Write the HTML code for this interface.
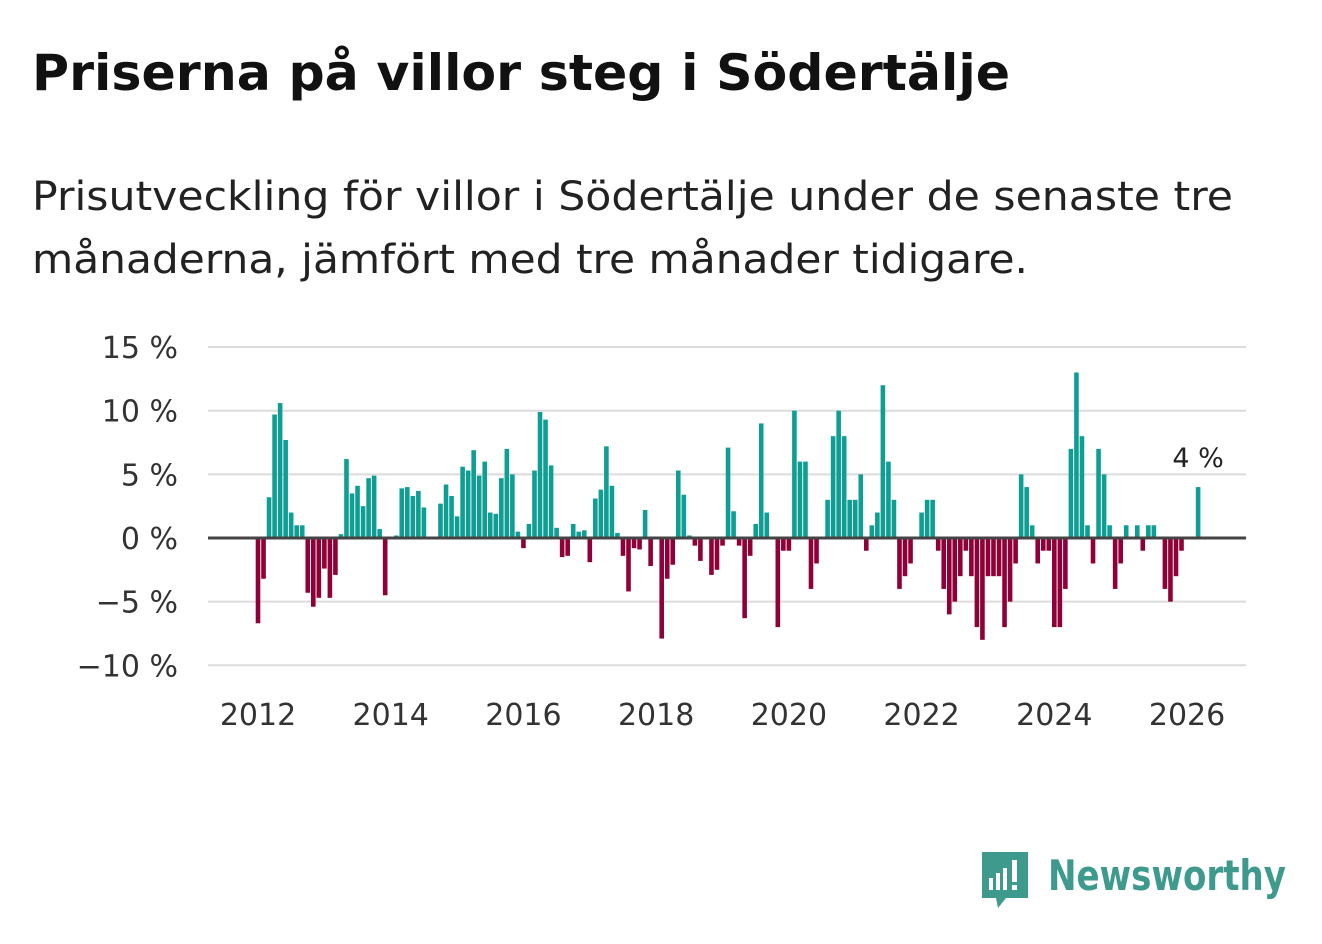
<!DOCTYPE html>
<html><head><meta charset="utf-8"><style>
body{margin:0;background:#fff;width:1322px;height:939px;overflow:hidden;font-family:"Liberation Sans","DejaVu Sans",sans-serif;}
</style></head><body>
<svg id="chart" width="1322" height="939">
<text x="32" y="90" font-size="50" font-weight="bold" fill="#111" font-family="DejaVu Sans, sans-serif" textLength="978" lengthAdjust="spacingAndGlyphs">Priserna på villor steg i Södertälje</text>
<text x="32" y="210" font-size="40" fill="#222" font-family="DejaVu Sans, sans-serif" textLength="1201" lengthAdjust="spacingAndGlyphs">Prisutveckling för villor i Södertälje under de senaste tre</text>
<text x="32" y="273" font-size="40" fill="#222" font-family="DejaVu Sans, sans-serif" textLength="996" lengthAdjust="spacingAndGlyphs">månaderna, jämfört med tre månader tidigare.</text>
<g id="grid"></g><g id="bars"></g><g id="axes"></g>
<g>
<path d="M982 852 h46 v46 h-22 l-8 10 l-2 -10 h-14 z" fill="#3f9a8e"/>
<rect x="989" y="878" width="4" height="12" fill="#fff"/><rect x="996" y="873" width="4" height="17" fill="#fff"/><rect x="1003" y="868" width="4" height="22" fill="#fff"/><rect x="1012" y="860" width="5" height="22" fill="#fff"/><rect x="1012" y="885" width="5" height="5" fill="#fff"/>
<text x="1048" y="890" font-size="42" font-weight="bold" fill="#3f9a8e" font-family="DejaVu Sans, sans-serif" textLength="238" lengthAdjust="spacingAndGlyphs">Newsworthy</text>
</g>
</svg>
<script>
const startYear = 2012;
const values = [
-6.7,-3.2,3.2,9.7,10.6,7.7,2.0,1.0,1.0,-4.3,-5.4,-4.7,
-2.4,-4.7,-2.9,0.3,6.2,3.5,4.1,2.5,4.7,4.9,0.7,-4.5,
0,0.2,3.9,4.0,3.3,3.7,2.4,0.1,0,2.7,4.2,3.3,
1.7,5.6,5.3,6.9,4.9,6.0,2.0,1.9,4.7,7.0,5.0,0.5,
-0.8,1.1,5.3,9.9,9.3,5.7,0.8,-1.5,-1.4,1.1,0.5,0.6,
-1.9,3.1,3.8,7.2,4.1,0.4,-1.4,-4.2,-0.8,-0.9,2.2,-2.2,
0,-7.9,-3.2,-2.1,5.3,3.4,0.2,-0.6,-1.8,0,-2.9,-2.5,
-0.6,7.1,2.1,-0.6,-6.3,-1.4,1.1,9.0,2.0,0,-7.0,-1.0,
-1.0,10,6,6,-4,-2,0,3,8,10,8,3,
3,5,-1,1,2,12,6,3,-4,-3,-2,0,
2,3,3,-1,-4,-6,-5,-3,-1,-3,-7,-8,
-3,-3,-3,-7,-5,-2,5,4,1,-2,-1,-1,
-7,-7,-4,7,13,8,1,-2,7,5,1,-4,
-2,1,0,1,-1,1,1,0,-4,-5,-3,-1,
0,0,4];
const yTicks = [15,10,5,0,-5,-10];
const yTickLabels = ["15 %","10 %","5 %","0 %","−5 %","−10 %"];
const xTicks = [2012,2014,2016,2018,2020,2022,2024,2026];
const lastLabel = "4 %";
const NS="http://www.w3.org/2000/svg";
const step=5.53, x0=258;
function x(i){return x0+i*step;}
function xYear(yr){return x0+(yr-startYear)*12*step;}
function y(v){return 538-v*12.73;}
function mk(t,a,p){const e=document.createElementNS(NS,t);for(const k in a)e.setAttribute(k,a[k]);p.appendChild(e);return e;}
const grid=document.getElementById('grid'),bars=document.getElementById('bars'),axes=document.getElementById('axes');
yTicks.forEach((v,k)=>{
 if(v!==0){const l=mk('line',{x1:208,x2:1246,y1:y(v),y2:y(v),stroke:'#dcdcdc','stroke-width':2},grid);
 
 }
 const t=mk('text',{x:178,y:y(v)+11,'text-anchor':'end','font-size':30,fill:'#333','font-family':'DejaVu Sans, sans-serif'},axes);
 t.textContent=yTickLabels[k];
 
 
});
values.forEach((v,i)=>{
 if(v===0)return;
 const r=mk('rect',{x:x(i)-2.3,width:4.6,y:Math.min(y(v),y(0)),height:Math.abs(y(v)-y(0)),fill:v>0?'#0f9e94':'#8f0038'},bars);
 
 
});
const z=mk('line',{x1:208,x2:1246,y1:y(0),y2:y(0),stroke:'#444','stroke-width':3},axes);


xTicks.forEach(yr=>{
 const t=mk('text',{x:xYear(yr),y:725,'text-anchor':'middle','font-size':30,fill:'#333','font-family':'DejaVu Sans, sans-serif'},axes);
 t.textContent=yr;
 
 
});
const li=values.length-1;
const lab=mk('text',{x:x(li),y:y(values[li])-20,'text-anchor':'middle','font-size':27,fill:'#222','font-family':'DejaVu Sans, sans-serif'},axes);
lab.textContent=lastLabel;


</script>
</body></html>
